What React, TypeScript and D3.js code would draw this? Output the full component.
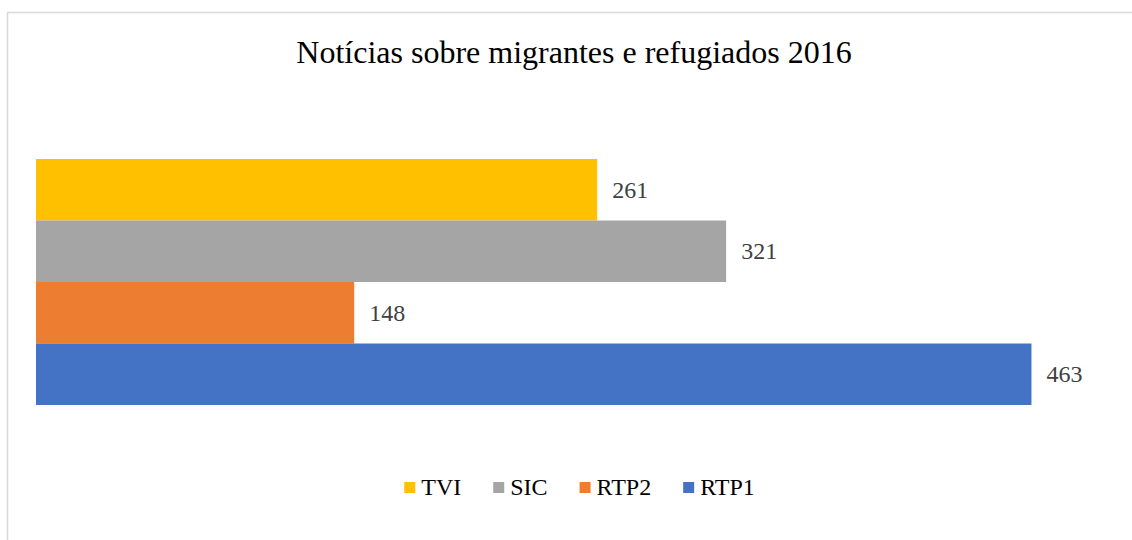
import { useEffect, useRef } from "react";
import * as d3 from "d3";

const WIDTH = 1132;
const HEIGHT = 540;
const FONT = "Liberation Serif, Times New Roman, Times, DejaVu Serif, serif";

// data, top to bottom
const channels = ["TVI", "SIC", "RTP2", "RTP1"];
const counts = [261, 321, 148, 463];
const colors = ["#FFC000", "#A5A5A5", "#ED7D31", "#4472C4"];
const title = "Notícias sobre migrantes e refugiados 2016";

export default function App() {
  const ref = useRef<SVGSVGElement>(null);

  useEffect(() => {
    const svg = d3.select(ref.current);
    svg.selectAll("*").remove();

    // chart frame (right and bottom edges fall outside the picture)
    svg
      .append("rect")
      .attr("x", 7.5)
      .attr("y", 12.5)
      .attr("width", 1133)
      .attr("height", 540)
      .attr("fill", "#fff")
      .attr("stroke", "#d9d9d9")
      .attr("stroke-width", 1.5);

    svg
      .append("text")
      .attr("x", 574)
      .attr("y", 63)
      .attr("text-anchor", "middle")
      .style("font-family", FONT)
      .style("font-size", "32px")
      .attr("fill", "#000")
      .text(title);

    const y = d3.scaleBand().domain(channels).range([159, 405]).padding(0);
    const x = d3.scaleLinear().domain([0, 500]).range([36, 1111]);

    const rows = channels.map((c, i) => ({ c, v: counts[i], col: colors[i] }));

    const g = svg.append("g");
    g.selectAll("rect")
      .data(rows)
      .join("rect")
      .attr("x", x(0))
      .attr("y", (d) => y(d.c)!)
      .attr("width", (d) => x(d.v) - x(0))
      .attr("height", y.bandwidth())
      .attr("fill", (d) => d.col);

    g.selectAll("text")
      .data(rows)
      .join("text")
      .attr("x", (d) => x(d.v) + 15)
      .attr("y", (d) => y(d.c)! + y.bandwidth() / 2 + 8)
      .style("font-family", FONT)
      .style("font-size", "24px")
      .attr("fill", "#404040")
      .text((d) => d.v);

    // legend, laid out from measured text widths and centred
    const legend = svg.append("g");
    const box = 11;
    const gapText = 6;
    const gapItem = 32;
    let cx = 0;
    rows.forEach((d) => {
      const item = legend.append("g").attr("transform", `translate(${cx},0)`);
      item
        .append("rect")
        .attr("x", 0)
        .attr("y", 482)
        .attr("width", box)
        .attr("height", box)
        .attr("fill", d.col);
      const t = item
        .append("text")
        .attr("x", box + gapText)
        .attr("y", 495)
        .style("font-family", FONT)
        .style("font-size", "24px")
        .attr("fill", "#000")
        .text(d.c);
      const w = (t.node() as SVGTextElement).getComputedTextLength();
      cx += box + gapText + w + gapItem;
    });
    const total = cx - gapItem;
    legend.attr("transform", `translate(${579.5 - total / 2},0)`);
  }, []);

  return (
    <svg
      ref={ref}
      width={WIDTH}
      height={HEIGHT}
      style={{ position: "absolute", left: 0, top: 0, background: "#fff" }}
    />
  );
}
